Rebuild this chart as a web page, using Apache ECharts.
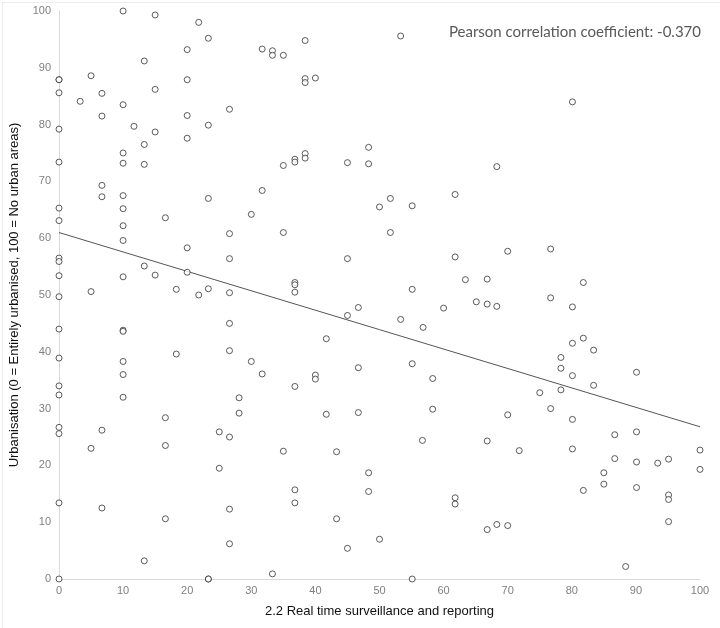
<!DOCTYPE html>
<html><head><meta charset="utf-8">
<script src="https://cdn.jsdelivr.net/npm/echarts@6/dist/echarts.min.js"></script>
<style>html,body{margin:0;padding:0;background:#fff}#c{width:720px;height:628px}</style>
</head><body><div id="c"></div>
<script>
const xTitle = "2.2 Real time surveillance and reporting";
const yTitle = "Urbanisation (0 = Entirely urbanised, 100 = No urban areas)";
const corrText = "Pearson correlation coefficient: -0.370";
const trendX = [0, 100];
const trendY = [61.0, 26.8];
const xs = [
10,15,21.8,23.3,20,13.3,5,0,0,20,15,0,6.7,3.3,10,26.6,6.7,20,11.7,23.3,0,15,20,13.3,10,10,0,13.3,6.7,6.7,10,23.3,
31.7,33.3,33.3,35,38.4,38.4,38.4,40,53.3,48.3,45,48.3,35,36.8,36.8,38.4,38.4,31.7,51.7,61.8,
80.1,68.3,
0,10,0,10,16.6,26.6,10,20,0,0,26.6,13.3,20,15,0,10,18.3,23.3,5,21.8,26.6,0,0,10,10,26.6,18.3,26.6,0,10,10,0,
30,35,45,50,55.1,51.7,61.8,36.8,36.8,36.8,63.4,55.1,65.1,46.7,60,45,53.3,56.8,41.7,30,31.7,46.7,55.1,40,40,58.3,36.8,
70,76.7,66.8,81.8,66.8,68.3,76.7,80.1,80.1,81.8,83.4,78.3,78.3,80.1,83.4,90.1,78.3,
0,10,28.1,28.1,16.6,0,0,6.7,25,26.6,5,16.6,25,0,6.7,26.6,16.6,26.6,13.3,0,23.3,23.3,
58.3,41.7,46.7,56.7,35,43.3,48.3,36.8,48.3,61.8,61.8,36.8,43.3,50,45,33.3,55.1,
75,76.7,70,80.1,66.8,71.8,80.1,86.7,90.1,86.7,90.1,93.4,95.1,100,100,85,85,81.8,90.1,95.1,95.1,95.1,66.8,68.3,70,88.4
];
const ys = [
100,99.3,98,95.2,93.2,91.2,88.6,87.9,87.9,87.9,86.2,85.6,85.5,84.1,83.5,82.7,81.5,81.6,79.7,79.9,79.2,78.7,77.6,76.5,75,73.2,73.4,73,69.3,67.3,67.5,67,
93.3,93,92.2,92.2,94.8,88.1,87.4,88.2,95.6,76,73.3,73.1,72.8,73.9,73.4,74.9,74.1,68.4,67,67.7,
84,72.6,
65.3,65.2,63.1,62.2,63.6,60.8,59.6,58.3,56.5,55.9,56.4,55.1,54,53.5,53.4,53.2,51,51.1,50.6,50,50.4,49.7,44,43.8,43.6,45,39.6,40.2,38.9,38.3,36,34,
64.2,61,56.4,65.5,65.7,61,56.7,52.2,51.8,50.5,52.7,51,48.8,47.8,47.7,46.4,45.7,44.3,42.3,38.3,36.1,37.2,37.9,35.9,35.2,35.3,33.9,
57.7,58.1,52.8,52.2,48.4,48,49.5,47.9,41.5,42.4,40.3,39,37.1,35.8,34.1,36.4,33.3,
32.4,32,31.9,29.2,28.4,26.7,25.6,26.2,25.9,25,23,23.5,19.5,13.4,12.5,12.3,10.6,6.2,3.2,0,0,0,
29.9,29,29.3,24.4,22.5,22.4,18.7,15.7,15.4,14.3,13.2,13.4,10.6,7,5.4,0.9,0,
32.8,30,28.9,28.1,24.3,22.6,22.9,25.4,25.9,21.2,20.6,20.4,21.1,22.7,19.3,18.7,16.7,15.6,16.1,14.8,14,10.1,8.7,9.6,9.4,2.2
];
const xTicks = [0,10,20,30,40,50,60,70,80,90,100];
const yTicks = [0,10,20,30,40,50,60,70,80,90,100];

const pts = xs.map((x,i)=>[x, ys[i]]);
const chart = echarts.init(document.getElementById('c'), null, {renderer:'canvas'});
chart.setOption({
  animation:false,
  backgroundColor:'#fff',
  grid:{left:58, right:20, top:11, bottom:49, containLabel:false},
  xAxis:{type:'value', min:xTicks[0], max:xTicks[xTicks.length-1], interval:10,
    name:xTitle, nameLocation:'middle', nameGap:26,
    nameTextStyle:{color:'#111', fontSize:13, fontFamily:'Liberation Sans, Arial'},
    axisLine:{show:true, lineStyle:{color:'#d9d9d9', width:1}},
    axisTick:{show:false}, splitLine:{show:false},
    axisLabel:{color:'#808080', fontSize:11, margin:6, fontFamily:'Liberation Sans, Arial'}},
  yAxis:{type:'value', min:yTicks[0], max:yTicks[yTicks.length-1], interval:10,
    name:yTitle, nameLocation:'middle', nameGap:38, nameRotate:90,
    nameTextStyle:{color:'#111', fontSize:13, fontFamily:'Liberation Sans, Arial'},
    axisLine:{show:true, lineStyle:{color:'#d9d9d9', width:1}},
    axisTick:{show:false}, splitLine:{show:false},
    axisLabel:{color:'#808080', fontSize:11, margin:8, fontFamily:'Liberation Sans, Arial'}},
  graphic:[
    {type:'text', right:19, top:25, style:{text:corrText, fill:'#595959', fontSize:15, fontFamily:'Lato, Open Sans, sans-serif'}},
    {type:'rect', left:0, top:0, shape:{x:0.5,y:0.5,width:719,height:627}, style:{fill:'none', stroke:'#ececec', lineWidth:1}, silent:true}
  ],
  series:[
    {type:'scatter', data:pts, symbol:'circle', symbolSize:6,
      itemStyle:{color:'#ffffff', borderColor:'#333', borderWidth:1}, z:3},
    {type:'line', data:trendX.map((x,i)=>[x,trendY[i]]), symbol:'none',
      lineStyle:{color:'#555', width:1}, z:2}
  ]
});
</script></body></html>
